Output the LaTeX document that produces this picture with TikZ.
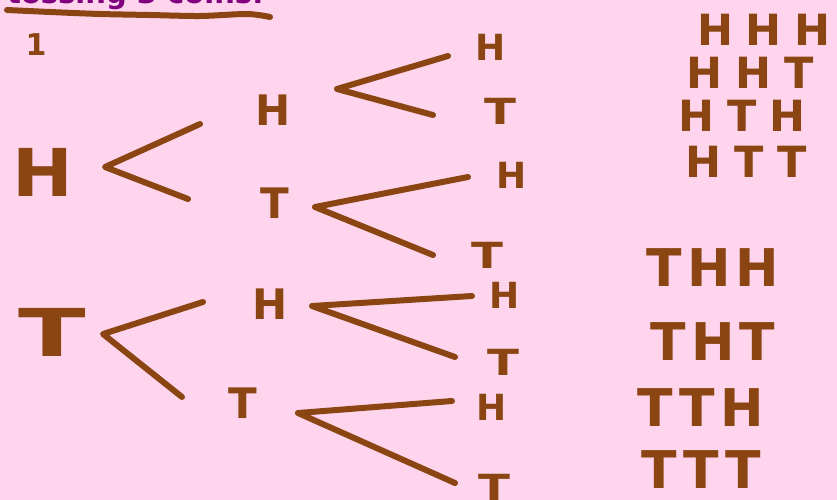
\documentclass[tikz,border=0pt]{standalone}
\usepackage{fontspec}
\newfontfamily\hwfont{DejaVu Sans}
\newfontfamily\hwlist{DejaVu Sans}[LetterSpace=10]
\newfontfamily\hwlistw{DejaVu Sans}[LetterSpace=30]
\newfontfamily\ttlfont{DejaVu Sans}
\definecolor{bg}{RGB}{255,213,237}
\definecolor{ink}{RGB}{139,69,19}
\definecolor{ttl}{RGB}{128,0,128}
\tikzset{
  hw/.style={text=ink, inner sep=0pt, anchor=center},
  big/.style={hw, font=\hwfont\bfseries\fontsize{66}{66}\selectfont},
  mid/.style={hw, font=\hwfont\bfseries\fontsize{42}{42}\selectfont},
  leaf/.style={hw, font=\hwfont\bfseries\fontsize{36}{36}\selectfont},
  outc/.style={hw, font=\hwlist\bfseries\fontsize{52}{52}\selectfont},
  outt/.style={hw, font=\hwlistw\bfseries\fontsize{43}{43}\selectfont},
  conn/.style={draw=ink, line width=6pt, line cap=round, line join=round},
}
\begin{document}
\begin{tikzpicture}[x=1pt,y=-1pt]
\useasboundingbox (0,0) rectangle (837,500);
\clip (0,0) rectangle (837,500);
\fill[bg] (0,0) rectangle (837,500);

% title (cut off at top)
\node[anchor=base west, text=ttl, inner sep=0pt,
      font=\ttlfont\bfseries\fontsize{29}{29}\selectfont] (title) at (7,4) {tossing 3 coins:};
\coordinate (ulA) at (7,10);
\coordinate (ulB) at (270,17);
\draw[conn] plot[smooth] coordinates {(ulA) (50,12) (100,14) (150,15) (200,16) (247,14) (ulB)};

% marker
\node[hw, font=\hwfont\bfseries\fontsize{30}{30}\selectfont] (one) at (36,45) {1};

% level 1
\node[big, xscale=1.1] (H1) at (43,172) {H};
\node[big, xscale=1.5] (T1) at (52,332) {T};

% level 2
\node[mid] (HA) at (273,110) {H};
\node[mid] (TA) at (275,203) {T};
\node[mid] (HB) at (270,304) {H};
\node[mid] (TB) at (243,403) {T};

% level 3
\node[leaf] (HAH) at (491,47) {H};
\node[leaf, xscale=1.3] (HAT) at (500,111) {T};
\node[leaf] (TAH) at (512,175) {H};
\node[leaf, xscale=1.3] (TAT) at (487,255) {T};
\node[leaf] (HBH) at (505,295) {H};
\node[leaf, xscale=1.3] (HBT) at (503,362) {T};
\node[leaf] (TBH) at (492,407) {H};
\node[leaf, xscale=1.3] (TBT) at (494,487) {T};

% outcomes
\node[outt] (o1) at (764,30) {HHH};
\node[outt] (o2) at (750,73) {HHT};
\node[outt] (o3) at (742,116) {HTH};
\node[outt] (o4) at (746,162) {HTT};
\node[outc] (o5) at (713,268) {THH};
\node[outc] (o6) at (713,342) {THT};
\node[outc] (o7) at (701,408) {TTH};
\node[outc] (o8) at (701,470) {TTT};

% branch vertices and ends
\coordinate (vH1) at (105,167);
\coordinate (eH1a) at (200,124);
\coordinate (eH1b) at (188,199);
\coordinate (vT1) at (103,334);
\coordinate (eT1a) at (203,302);
\coordinate (eT1b) at (182,397);
\coordinate (vHA) at (337,89);
\coordinate (eHAa) at (448,56);
\coordinate (eHAb) at (433,115);
\coordinate (vTA) at (315,207);
\coordinate (eTAa) at (468,177);
\coordinate (eTAb) at (433,255);
\coordinate (vHB) at (312,306);
\coordinate (eHBa) at (472,296);
\coordinate (eHBb) at (455,357);
\coordinate (vTB) at (298,413);
\coordinate (eTBa) at (452,401);
\coordinate (eTBb) at (455,483);

\draw[conn] (eH1a) -- (vH1) -- (eH1b);
\draw[conn] (eT1a) -- (vT1) -- (eT1b);
\draw[conn] (eHAa) -- (vHA) -- (eHAb);
\draw[conn] (eTAa) -- (vTA) -- (eTAb);
\draw[conn] (eHBa) -- (vHB) -- (eHBb);
\draw[conn] (eTBa) -- (vTB) -- (eTBb);
\end{tikzpicture}
\end{document}
